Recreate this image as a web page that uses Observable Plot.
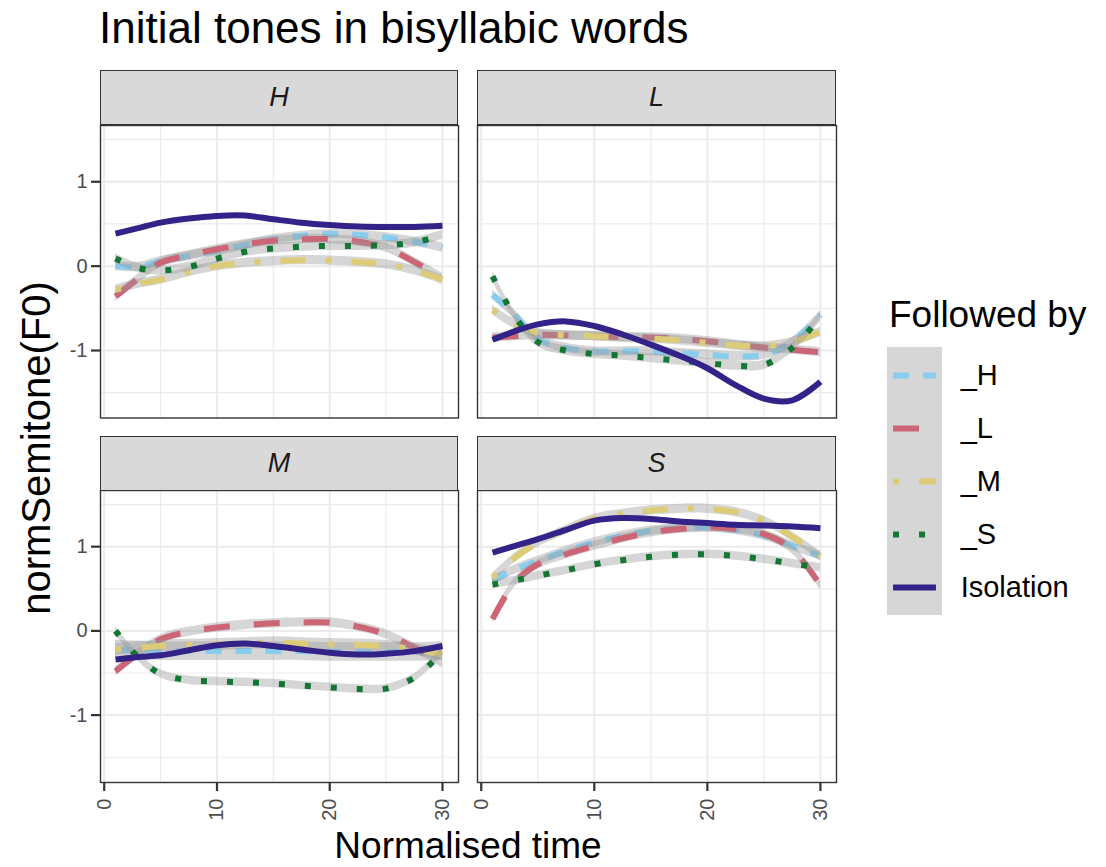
<!DOCTYPE html>
<html><head><meta charset="utf-8">
<script src="https://cdn.jsdelivr.net/npm/d3@7"></script>
<script src="https://cdn.jsdelivr.net/npm/@observablehq/plot@0.6"></script>
<style>
body{margin:0;background:#fff;font-family:"Liberation Sans",Arial,Helvetica,sans-serif;}
#chart{position:relative;width:1106px;height:867px;overflow:hidden;background:#fff;}
#chart svg{position:absolute;overflow:visible;max-width:none;}
.strip{position:absolute;background:#d9d9d9;border:1.4px solid #333;box-sizing:border-box;font-style:italic;font-size:27px;color:#1a1a1a;display:flex;align-items:center;justify-content:center;}
[aria-label$="tick label"]{fill:#4d4d4d;font-size:20px;}
[aria-label$="tick label"] text{font-size:20px;}
</style></head>
<body><div id="chart"></div>
<script>
// ---------- data ----------
const time = [1, 3, 5, 7.5, 10, 12.5, 15, 17.5, 20, 22.5, 25, 27.5, 30];
const tones = ["H", "L", "M", "S"];
const groups = ["_H", "_L", "_M", "_S", "Isolation"];

const H_H   = [0.0, -0.01, 0.06, 0.12, 0.18, 0.25, 0.32, 0.36, 0.38, 0.37, 0.34, 0.29, 0.22];
const H_L   = [-0.36, -0.15, 0.04, 0.13, 0.20, 0.26, 0.30, 0.32, 0.32, 0.29, 0.22, 0.05, -0.14];
const H_M   = [-0.28, -0.21, -0.16, -0.07, 0.0, 0.04, 0.06, 0.07, 0.066, 0.05, 0.02, -0.05, -0.16];
const H_S   = [0.09, -0.02, -0.05, -0.01, 0.09, 0.17, 0.21, 0.23, 0.24, 0.24, 0.25, 0.28, 0.37];
const H_Iso = [0.385, 0.45, 0.516, 0.565, 0.595, 0.60, 0.556, 0.515, 0.488, 0.47, 0.464, 0.465, 0.48];

const L_H   = [-0.34, -0.58, -0.86, -0.97, -1.01, -1.01, -1.01, -1.03, -1.05, -1.07, -1.05, -0.9, -0.58];
const L_L   = [-0.845, -0.83, -0.815, -0.82, -0.83, -0.84, -0.845, -0.86, -0.89, -0.93, -0.965, -0.99, -1.02];
const L_M   = [-0.52, -0.69, -0.79, -0.82, -0.83, -0.85, -0.86, -0.88, -0.91, -0.94, -0.95, -0.9, -0.78];
const L_S   = [-0.12, -0.6, -0.9, -1.0, -1.04, -1.06, -1.09, -1.12, -1.15, -1.18, -1.17, -0.97, -0.6];
const L_Iso = [-0.873, -0.77, -0.69, -0.655, -0.71, -0.81, -0.93, -1.06, -1.21, -1.41, -1.57, -1.59, -1.37];

const M_H   = [-0.22, -0.23, -0.24, -0.24, -0.24, -0.24, -0.24, -0.24, -0.25, -0.25, -0.25, -0.25, -0.24];
const M_L   = [-0.48, -0.27, -0.1, -0.01, 0.04, 0.07, 0.09, 0.1, 0.1, 0.05, -0.04, -0.2, -0.38];
const M_M   = [-0.22, -0.2, -0.18, -0.17, -0.16, -0.15, -0.14, -0.15, -0.16, -0.165, -0.18, -0.22, -0.28];
const M_S   = [0.0, -0.31, -0.51, -0.585, -0.6, -0.61, -0.625, -0.65, -0.67, -0.69, -0.685, -0.556, -0.25];
const M_Iso = [-0.34, -0.31, -0.29, -0.23, -0.17, -0.15, -0.18, -0.22, -0.26, -0.28, -0.27, -0.24, -0.18];

const S_H   = [0.6, 0.73, 0.83, 0.95, 1.05, 1.13, 1.19, 1.22, 1.23, 1.2, 1.13, 1.01, 0.89];
const S_L   = [0.14, 0.58, 0.79, 0.91, 1.01, 1.1, 1.17, 1.21, 1.23, 1.21, 1.15, 0.97, 0.54];
const S_M   = [0.63, 0.87, 1.05, 1.2, 1.33, 1.39, 1.43, 1.45, 1.45, 1.41, 1.31, 1.12, 0.89];
const S_S   = [0.55, 0.6, 0.655, 0.72, 0.79, 0.84, 0.88, 0.905, 0.91, 0.89, 0.85, 0.8, 0.75];
const S_Iso = [0.93, 1.01, 1.09, 1.2, 1.31, 1.34, 1.33, 1.3, 1.28, 1.26, 1.25, 1.24, 1.22];

// confidence half-widths (order _H, _L, _M, _S)
const se_H = [0.055, 0.055, 0.055, 0.055];
const se_L = [0.055, 0.055, 0.055, 0.055];
const se_M = [0.11, 0.055, 0.07, 0.05];
const se_S = [0.055, 0.055, 0.055, 0.05];

const xMajor = [0, 10, 20, 30];
const xMinor = [5, 15, 25];
const yMajor = [-1, 0, 1];
const yMinor = [-1.5, -0.5, 0.5, 1.5];

const valuesByTone = {
  H: [H_H, H_L, H_M, H_S, H_Iso],
  L: [L_H, L_L, L_M, L_S, L_Iso],
  M: [M_H, M_L, M_M, M_S, M_Iso],
  S: [S_H, S_L, S_M, S_S, S_Iso]
};
const seByTone = {H: se_H, L: se_L, M: se_M, S: se_S};

const rows = [];
tones.forEach(t => groups.forEach((g, gi) => time.forEach((x, i) => {
  rows.push({tone: t, group: g, time: x, value: valuesByTone[t][gi][i], se: gi < 4 ? seByTone[t][gi] : 0});
})));

// ---------- styles ----------
const FONT = '"Liberation Sans", Arial, Helvetica, sans-serif';
const styleOf = {
  "_H": {stroke: "#88CCEE", dash: "16 14"},
  "_L": {stroke: "#CC6677", dash: "26 24"},
  "_M": {stroke: "#DDCC77", dash: "6 20 25 20"},
  "_S": {stroke: "#117733", dash: "6 20"},
  "Isolation": {stroke: "#332288", dash: null}
};

const chart = document.getElementById("chart");
function place(el, left, top) {
  el.style.left = left + "px";
  el.style.top = top + "px";
  chart.appendChild(el);
}

const panelDefs = [
  {tone: "H", left: 100, top: 124.5, w: 358, h: 292.5, stripTop: 70, yAxis: true, xAxis: false},
  {tone: "L", left: 477, top: 124.5, w: 359, h: 292.5, stripTop: 70, yAxis: false, xAxis: false},
  {tone: "M", left: 100, top: 490, w: 358, h: 292, stripTop: 436, yAxis: true, xAxis: true},
  {tone: "S", left: 477, top: 490, w: 359, h: 292, stripTop: 436, yAxis: false, xAxis: true}
];

const ml = 50, mr = 5, mt = 5, mb = 60;
panelDefs.forEach(p => {
  const marks = [
    Plot.ruleX(xMinor, {stroke: "#ebebeb", strokeWidth: 1.2}),
    Plot.ruleX(xMajor, {stroke: "#ebebeb", strokeWidth: 2}),
    Plot.ruleY(yMinor, {stroke: "#ebebeb", strokeWidth: 1.2}),
    Plot.ruleY(yMajor, {stroke: "#ebebeb", strokeWidth: 2})
  ];
  groups.forEach(g => {
    const d = rows.filter(r => r.tone === p.tone && r.group === g);
    if (g !== "Isolation") {
      marks.push(Plot.areaY(d, {x: "time", y1: r => r.value - r.se, y2: r => r.value + r.se,
        fill: "#999999", fillOpacity: 0.4, curve: "catmull-rom"}));
    }
    const s = styleOf[g];
    marks.push(Plot.line(d, {x: "time", y: "value", stroke: s.stroke, strokeWidth: 6,
      strokeDasharray: s.dash, strokeLinecap: "butt", curve: "catmull-rom"}));
  });
  marks.push(Plot.frame({stroke: "#333", strokeWidth: 1.4}));
  if (p.yAxis) {
    marks.push(Plot.axisY(yMajor, {anchor: "left", tickSize: 9, tickPadding: 4, stroke: "#333",
      strokeWidth: 2.2, fill: "#4d4d4d", fontSize: 20, tickFormat: d => String(d), label: null}));
  }
  if (p.xAxis) {
    marks.push(Plot.axisX(xMajor, {anchor: "bottom", tickSize: 9, tickPadding: 7, tickRotate: -90,
      stroke: "#333", strokeWidth: 2.2, fill: "#4d4d4d", fontSize: 20, tickFormat: d => String(d), label: null}));
  }
  const svg = Plot.plot({
    width: ml + p.w + mr, height: mt + p.h + mb,
    marginLeft: ml, marginRight: mr, marginTop: mt, marginBottom: mb,
    x: {domain: [-0.33, 31.42], axis: p.xAxis ? undefined : null},
    y: {domain: [-1.80, 1.667], axis: p.yAxis ? undefined : null},
    style: {fontFamily: FONT, background: "transparent", overflow: "visible", fontSize: "20px"},
    marks
  });
  place(svg, p.left - ml, p.top - mt);

  const strip = document.createElement("div");
  strip.className = "strip";
  strip.style.width = p.w + "px";
  strip.style.height = (p.top - p.stripTop + 0.7) + "px";
  strip.textContent = p.tone;
  place(strip, p.left, p.stripTop);
});

// ---------- legend ----------
const keyBg = document.createElement("div");
keyBg.style.position = "absolute";
keyBg.style.width = "55px";
keyBg.style.height = "268px";
keyBg.style.background = "#d6d6d6";
place(keyBg, 887, 347);

const legendMarks = [];
groups.forEach(g => {
  const s = styleOf[g];
  legendMarks.push(Plot.ruleY([g], {y: d => d, x1: 0.11, x2: 0.89, stroke: s.stroke, strokeWidth: 6,
    strokeDasharray: s.dash, strokeLinecap: "butt"}));
});
legendMarks.push(Plot.text(groups, {y: d => d, x: 1.33, text: d => d, textAnchor: "start",
  fontSize: 29, fill: "#000", lineAnchor: "middle"}));
const legend = Plot.plot({
  width: 219, height: 268, margin: 0,
  x: {domain: [0, 1], range: [0, 55], axis: null},
  y: {type: "point", domain: groups, padding: 0.5, range: [0, 268], axis: null},
  style: {fontFamily: FONT, background: "transparent", overflow: "visible"},
  marks: legendMarks
});
place(legend, 887, 347);

// ---------- titles ----------
const overlay = d3.create("svg").attr("width", 1106).attr("height", 867)
  .style("left", "0px").style("top", "0px").style("pointer-events", "none")
  .attr("font-family", FONT);
overlay.append("text").attr("x", 99).attr("y", 42.5).attr("font-size", 44).attr("fill", "#000")
  .text("Initial tones in bisyllabic words");
overlay.append("text").attr("x", 468).attr("y", 858).attr("font-size", 37).attr("fill", "#000")
  .attr("text-anchor", "middle").text("Normalised time");
overlay.append("text").attr("transform", "translate(50,448) rotate(-90)").attr("font-size", 40)
  .attr("fill", "#000").attr("text-anchor", "middle").text("normSemitone(F0)");
overlay.append("text").attr("x", 889).attr("y", 327).attr("font-size", 37).attr("fill", "#000")
  .text("Followed by");
chart.appendChild(overlay.node());
</script>
</body></html>
